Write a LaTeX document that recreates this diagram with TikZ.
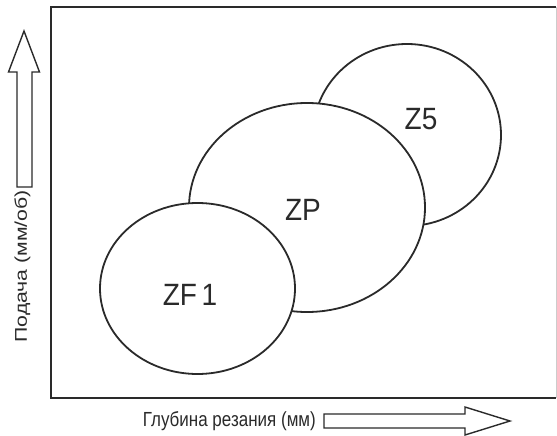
\documentclass[tikz,border=0pt]{standalone}
\usepackage{fontspec}
\setmainfont{Liberation Sans}
\usetikzlibrary{shapes.geometric}
\definecolor{ink}{HTML}{2A2A2A}
\begin{document}
\begin{tikzpicture}[x=1pt,y=-1pt,
  zone/.style={ellipse,draw=ink,line width=1.8pt,fill=white,inner sep=0pt,outer sep=0pt},
  zlabel/.style={font=\fontsize{28}{30}\selectfont,text=ink,inner sep=0pt},
  axlabel/.style={font=\fontsize{17}{19}\selectfont,text=ink,inner sep=0pt},
  bigarrow/.style={draw=ink,line width=1.4pt,fill=white,line join=miter}]
\useasboundingbox (0,0) rectangle (557,436);
% frame
\draw[ink,line width=1.8pt] (556,7) -- (51,7) -- (51,398) -- (556,398);
\draw[gray!40,line width=1pt] (556,7) -- (556,398);
% zones
\node[zone,minimum width=188pt,minimum height=182pt] (z5) at (407,135) {};
\node[zone,minimum width=236pt,minimum height=209pt] (zp) at (307,207.5) {};
\node[zone,minimum width=195pt,minimum height=171pt] (zf1) at (197.5,288.5) {};
\node[zlabel] (lz5) at (421,119) {\scalebox{1}[1.1]{Z5}};
\node[zlabel] (lzp) at (303,210) {\scalebox{1}[1.1]{ZP}};
\node[zlabel] (lzf1) at (190,295) {\scalebox{1}[1.1]{ZF\,1}};
% axis arrows
\draw[bigarrow] (17,187) -- (17,72) -- (8.5,72) -- (24,31) -- (39.5,72) -- (32,72) -- (32,187) -- cycle;
\draw[bigarrow] (324,414) -- (465,414) -- (465,407) -- (510,421) -- (465,435) -- (465,428) -- (324,428) -- cycle;
% axis labels
\node[axlabel,anchor=east] (xl) at (316,421) {\scalebox{1}[1.2]{Глубина резания (мм)}};
\node[axlabel,rotate=90,anchor=east] (yl) at (22.5,190) {\scalebox{1.25}[1]{Подача (мм/об)}};
\end{tikzpicture}
\end{document}
